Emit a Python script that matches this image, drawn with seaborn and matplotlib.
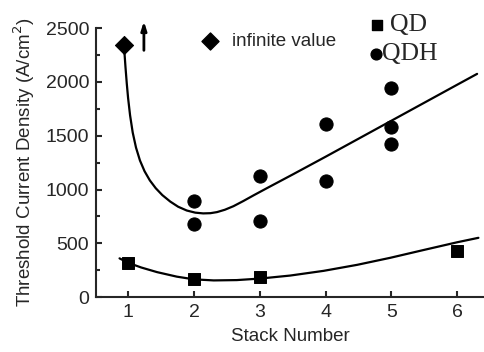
import matplotlib
matplotlib.use("Agg")
import matplotlib.pyplot as plt
import seaborn as sns

# ---- data ----
qd_x = [1, 2, 3, 6]
qd_y = [319, 167, 185, 430]

qdh_x = [2, 2, 3, 3, 4, 4, 5, 5, 5]
qdh_y = [895, 680, 1124, 709, 1081, 1605, 1940, 1583, 1422]

inf_x = [0.94]
inf_y = [2348]

# fitted guide curves
qdh_fit_x = [0.94, 0.96, 0.98, 1.00, 1.03, 1.07, 1.12, 1.18, 1.25, 1.33, 1.42, 1.52, 1.64,
             1.76, 1.89, 2.02, 2.14, 2.25, 2.35, 2.47, 2.60, 2.75, 2.90, 3.10, 3.5, 4.0,
             5.0, 6.0, 6.30]
qdh_fit_y = [2314, 2140, 1985, 1850, 1690, 1530, 1390, 1270, 1170, 1085, 1012, 948, 888,
             840, 805, 785, 778, 780, 790, 812, 845, 893, 944, 1010, 1140, 1305,
             1640, 1975, 2075]

qd_fit_x = [0.87, 1.0, 1.2, 1.44, 1.74, 2.0, 2.3, 2.65, 3.0, 3.46, 3.97, 4.48, 4.98, 5.49, 6.0, 6.32]
qd_fit_y = [360, 319, 275, 232, 190, 165, 155, 158, 172, 200, 244, 300, 365, 438, 510, 551]

sns.set_style("ticks")
plt.rcParams['font.family'] = ['Liberation Sans', 'DejaVu Sans']

fig = plt.figure(figsize=(4.85, 3.52), dpi=100)
ax = fig.add_axes([0.198, 0.156, 0.802, 0.764])

lw = 1.6
sns.lineplot(x=qdh_fit_x, y=qdh_fit_y, sort=False, color='black', lw=lw, ax=ax, estimator=None)
sns.lineplot(x=qd_fit_x, y=qd_fit_y, sort=False, color='black', lw=lw, ax=ax, estimator=None)

sns.scatterplot(x=qd_x, y=qd_y, marker='s', s=75, color='black', edgecolor='black', ax=ax, zorder=3)
sns.scatterplot(x=qdh_x, y=qdh_y, marker='o', s=90, color='black', edgecolor='black', ax=ax, zorder=3)
sns.scatterplot(x=inf_x, y=inf_y, marker='D', s=85, color='black', edgecolor='black', ax=ax, zorder=3)

# arrow indicating infinite value
ax.annotate('', xy=(1.24, 2590), xytext=(1.24, 2268),
            arrowprops=dict(arrowstyle='-|>,head_width=0.16,head_length=0.5', lw=2, color='black'),
            annotation_clip=False)

ax.set_xlim(0.513, 6.42)
ax.set_ylim(0, 2500)
ax.set_xticks([1, 2, 3, 4, 5, 6])
ax.set_yticks([0, 500, 1000, 1500, 2000, 2500])
ax.set_yticks([250, 750, 1250, 1750, 2250], minor=True)

for s in ['top', 'right']:
    ax.spines[s].set_visible(False)
for s in ['left', 'bottom']:
    ax.spines[s].set_linewidth(1.5)

ax.tick_params(axis='both', which='major', direction='in', length=4, width=1.5,
               labelsize=14, pad=5)
ax.tick_params(axis='y', which='minor', direction='in', length=3, width=1.5)

ax.set_xlabel('Stack Number', fontsize=13.5, labelpad=5)
ax.set_ylabel('Threshold Current Density (A/cm$^2$)', fontsize=13.5, labelpad=6)

# legend-like annotations
ax.scatter([0.293], [0.952], marker='D', s=75, color='black', transform=ax.transAxes, clip_on=False)
ax.text(0.35, 0.952, 'infinite value', transform=ax.transAxes, fontsize=13.5, va='center', ha='left')

ax.scatter([0.722], [1.012], marker='s', s=60, color='black', transform=ax.transAxes, clip_on=False)
ax.text(0.757, 1.012, 'QD', transform=ax.transAxes, fontsize=18.5, va='center', ha='left',
        family=['Liberation Serif', 'DejaVu Serif'])
ax.scatter([0.720], [0.905], marker='o', s=60, color='black', transform=ax.transAxes, clip_on=False)
ax.text(0.735, 0.905, 'QDH', transform=ax.transAxes, fontsize=18.5, va='center', ha='left',
        family=['Liberation Serif', 'DejaVu Serif'])

fig.savefig('out.png', dpi=100)
